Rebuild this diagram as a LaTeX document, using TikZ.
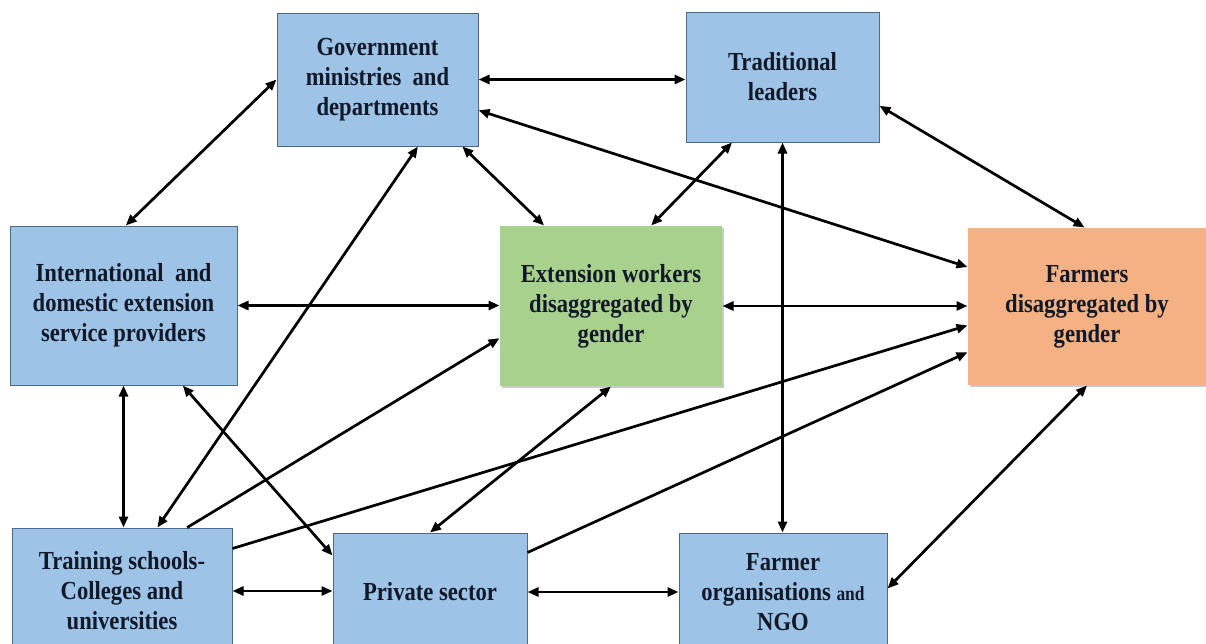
\documentclass[tikz,border=0pt]{standalone}
\usepackage{fontspec}
\setmainfont{Liberation Serif}[FakeStretch=0.87]
\usetikzlibrary{arrows.meta,calc,shadows}
\definecolor{boxblue}{HTML}{9DC3E6}
\definecolor{boxborder}{HTML}{4A6A8A}
\definecolor{boxgreen}{HTML}{A9D18E}
\definecolor{boxorange}{HTML}{F4B183}
\definecolor{inktext}{HTML}{111827}
\begin{document}
\begin{tikzpicture}[x=1pt,y=-1pt,
  box/.style={draw=boxborder, line width=1pt, fill=boxblue, align=center,
    inner sep=0pt, text=inktext,
    font=\fontsize{26}{30}\selectfont\bfseries},
  keybox/.style={box, draw=none,
    drop shadow={shadow xshift=1.5pt, shadow yshift=-1.5pt, opacity=0.35, fill=black!60}},
  tip/.tip={Triangle[length=11pt,width=9pt]},
  link/.style={line width=2.7pt, tip-tip},
  oneway/.style={line width=2.7pt, -tip},
]
\useasboundingbox (0,0) rectangle (1206,643);
\clip (0,0) rectangle (1206,643);
\fill[white] (0,0) rectangle (1206,643);

% actors
\node[box, minimum width=201pt, minimum height=133pt] (gov) at (377.5,79.5)
  {Government\\ministries\ \ and\\departments};
\node[box, minimum width=193pt, minimum height=130pt] (trad) at (782.5,77)
  {Traditional\\leaders};
\node[box, minimum width=227pt, minimum height=159pt] (intl) at (123.5,305.5)
  {International\ \ and\\domestic extension\\service providers};
\node[keybox, fill=boxgreen, minimum width=222pt, minimum height=160pt] (ext) at (611,306)
  {Extension workers\\disaggregated by\\gender};
\node[keybox, fill=boxorange, minimum width=238pt, minimum height=157pt] (farm) at (1087,306.5)
  {Farmers\\disaggregated by\\gender};
\node[box, minimum width=220pt, minimum height=126pt] (train) at (122,591)
  {Training schools-\\Colleges and\\universities};
\node[box, minimum width=194pt, minimum height=118pt] (priv) at (430,592)
  {Private sector};
\node[box, minimum width=208pt, minimum height=118pt] (forg) at (783,592)
  {Farmer\\organisations {\fontsize{20}{30}\selectfont and}\\NGO};

% links between actors
\draw[link] (gov.east) -- (gov.east -| trad.west);
\draw[link] (gov.west) -- ($(intl.north west)!0.51!(intl.north east)$);
\draw[link] ($(gov.south west)!0.92!(gov.south east)$) -- ($(ext.north west)!0.20!(ext.north east)$);
\draw[link] ($(gov.north east)!0.73!(gov.south east)$) -- ($(farm.north west)!0.25!(farm.south west)$);
\draw[link] ($(gov.south west)!0.70!(gov.south east)$) -- ($(train.north west)!0.66!(train.north east)$);
\draw[link] ($(trad.south west)!0.24!(trad.south east)$) -- ($(ext.north west)!0.68!(ext.north east)$);
\draw[link] ($(trad.north east)!0.72!(trad.south east)$) -- ($(farm.north west)!0.49!(farm.north east)$);
\draw[link] (trad.south) -- (trad.south |- forg.north);
\draw[link] (intl.east) -- (intl.east -| ext.west);
\draw[link] (intl.south) -- (intl.south |- train.north);
\draw[link] ($(intl.south west)!0.76!(intl.south east)$) -- ($(priv.north west)+(0,23)$);
\draw[link] (ext.east) -- (ext.east -| farm.west);
\draw[oneway] ($(train.north west)!0.795!(train.north east)$) -- ($(ext.north west)!0.70!(ext.south west)$);
\draw[oneway] ($(train.north east)+(0,21)$) -- ($(farm.north west)!0.62!(farm.south west)$);
\draw[link] (train.east) -- (train.east -| priv.west);
\draw[link] (ext.south) -- (priv.north);
\draw[oneway] ($(priv.north east)+(0,20)$) -- ($(farm.north west)!0.79!(farm.south west)$);
\draw[link] (priv.east) -- (priv.east -| forg.west);
\draw[link] ($(forg.north east)+(0,56)$) -- (farm.south);
\end{tikzpicture}
\end{document}
